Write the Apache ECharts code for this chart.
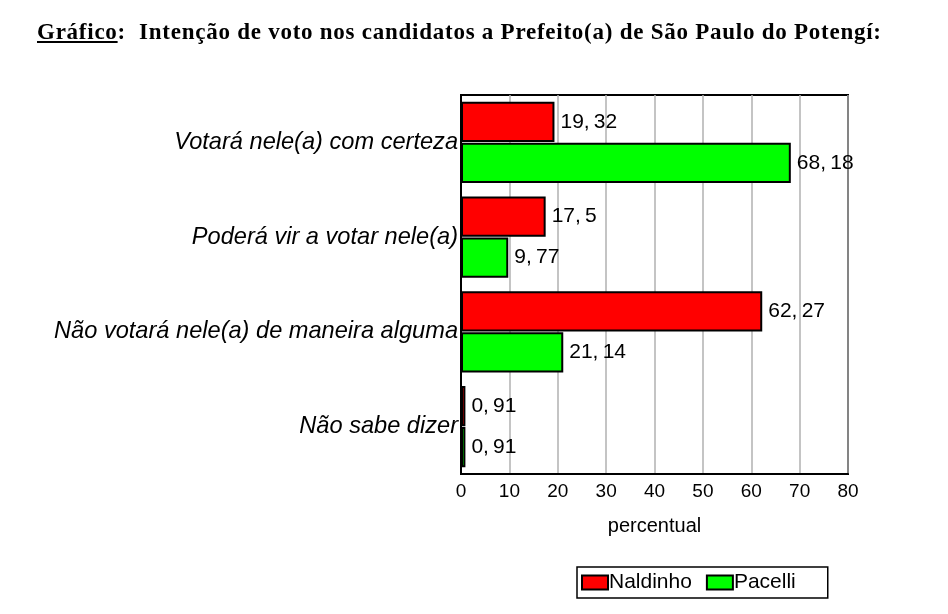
<!DOCTYPE html>
<html lang="pt">
<head>
<meta charset="utf-8">
<script src="https://cdn.jsdelivr.net/npm/echarts@6.0.0/dist/echarts.min.js"></script>
<style>
  html, body { margin: 0; padding: 0; width: 948px; height: 614px; background: #fff; overflow: hidden; }
  #title {
    position: absolute; left: 37px; top: 19px;
    font-family: "Liberation Serif", serif; font-weight: bold; font-size: 23px; color: #000;
    letter-spacing: 0.75px; white-space: nowrap;
  }
  #chart { position: absolute; left: 0; top: 0; width: 948px; height: 614px; }
</style>
</head>
<body>
<div id="chart"></div>
<div id="title"><u>Gráfico</u>:&nbsp; Intenção de voto nos candidatos a Prefeito(a) de São Paulo do Potengí:</div>
<script>
var categories = ['Votará nele(a) com certeza', 'Poderá vir a votar nele(a)', 'Não votará nele(a) de maneira alguma', 'Não sabe dizer'];
var naldinho = [19.32, 17.5, 62.27, 0.91];
var pacelli = [68.18, 9.77, 21.14, 0.91];
var xTicks = [0, 10, 20, 30, 40, 50, 60, 70, 80];

var chart = echarts.init(document.getElementById('chart'));

function fmt(p) {
  return String(p.value).replace('.', ',\u2009');
}

var labelStyle = {
  show: true,
  position: 'right',
  distance: 6,
  formatter: fmt,
  fontFamily: 'Liberation Sans, Arial, sans-serif',
  fontSize: 21,
  color: '#000'
};

chart.setOption({
  animation: false,
  grid: { left: 461, right: 100, top: 95, bottom: 140, show: true, borderColor: '#000', borderWidth: 2 },
  legend: {
    data: ['Naldinho', 'Pacelli'],
    left: 577, top: 567,
    padding: [5, 32, 5, 4],
    itemGap: 14,
    itemWidth: 26, itemHeight: 14,
    icon: 'rect',
    borderColor: '#000', borderWidth: 1.5,
    textStyle: { fontFamily: 'Liberation Sans, Arial, sans-serif', fontSize: 21, color: '#000', padding: [0, 0, 0, -4] }
  },
  xAxis: {
    type: 'value', min: 0, max: 80, interval: 10,
    name: 'percentual', nameLocation: 'middle', nameGap: 42,
    nameTextStyle: { fontFamily: 'Liberation Sans, Arial, sans-serif', fontSize: 20, color: '#000' },
    axisLine: { show: true, lineStyle: { color: '#000', width: 2 } },
    axisTick: { show: false },
    axisLabel: {
      fontFamily: 'Liberation Sans, Arial, sans-serif', fontSize: 19, color: '#000', margin: 8,
      formatter: function (v) { return xTicks.indexOf(v) >= 0 ? String(v) : ''; }
    },
    splitLine: { show: true, lineStyle: { color: '#b0b0b0', width: 1.5 } }
  },
  yAxis: {
    type: 'category', data: categories, inverse: true,
    axisLine: { show: true, lineStyle: { color: '#000', width: 2 } },
    axisTick: { show: false },
    axisLabel: {
      fontFamily: 'Liberation Sans, Arial, sans-serif', fontSize: 23.6, fontStyle: 'italic', color: '#000', margin: 3
    }
  },
  series: [
    {
      name: 'Naldinho', type: 'bar', data: naldinho,
      barGap: '2%', barCategoryGap: '14%',
      itemStyle: { color: '#ff0000', borderColor: '#000', borderWidth: 2 },
      label: labelStyle
    },
    {
      name: 'Pacelli', type: 'bar', data: pacelli,
      itemStyle: { color: '#00ff00', borderColor: '#000', borderWidth: 2 },
      label: labelStyle
    }
  ]
});
</script>
</body>
</html>
